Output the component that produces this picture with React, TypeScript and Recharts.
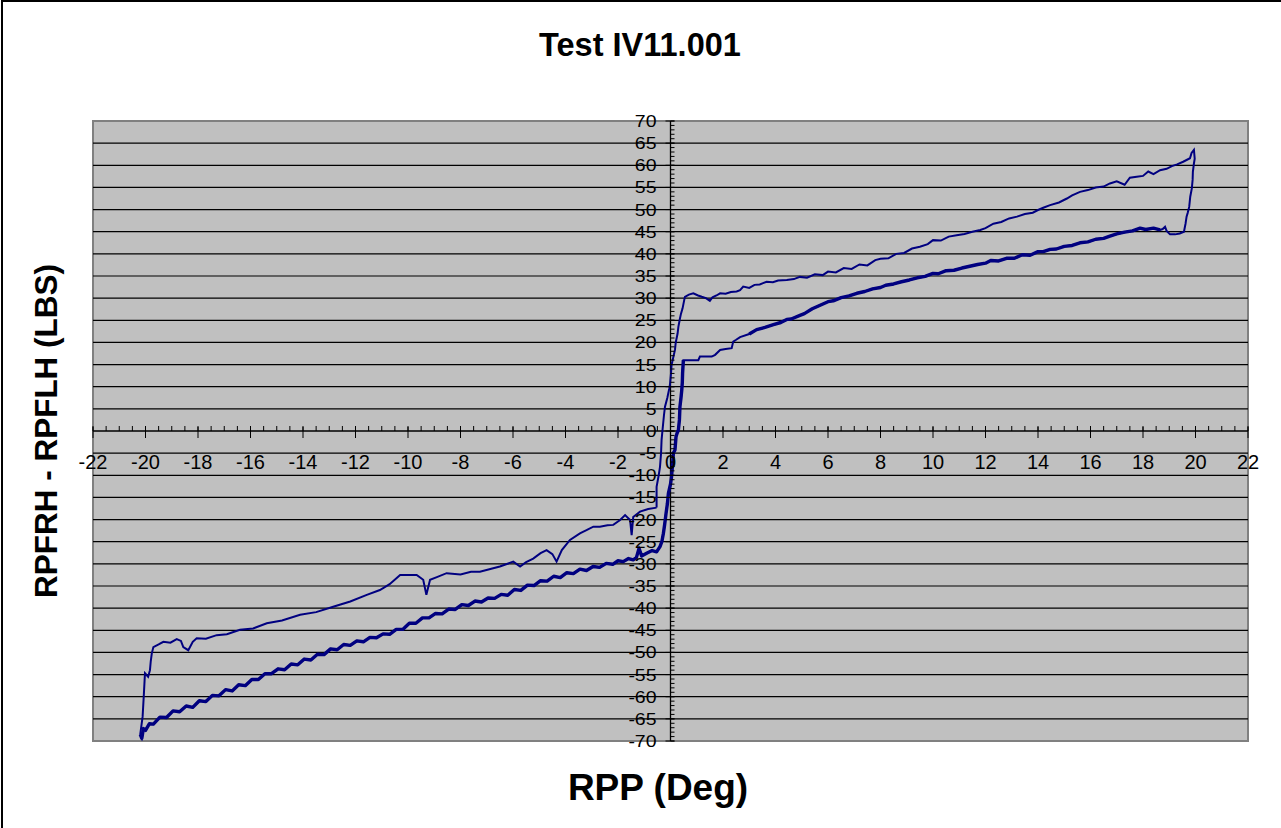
import React from 'react';
import { LineChart, Line, XAxis, YAxis, CartesianGrid, ReferenceLine, ReferenceDot, ReferenceArea } from 'recharts';

/* Test IV11.001 — RPP (Deg) vs RPFRH - RPFLH (LBS), one full hysteresis cycle */

const W = 1281;
const H = 828;
const FONT = '"Liberation Sans", Arial, sans-serif';
const LINE_COLOR = '#000080';

const X_TICKS = [-22, -20, -18, -16, -14, -12, -10, -8, -6, -4, -2, 0, 2, 4, 6, 8, 10, 12, 14, 16, 18, 20, 22];
const Y_TICKS = [-70, -65, -60, -55, -50, -45, -40, -35, -30, -25, -20, -15, -10, -5, 0, 5, 10, 15, 20, 25, 30, 35, 40, 45, 50, 55, 60, 65, 70];
const X_MINOR = Array.from({ length: 89 }, (_, i) => -22 + i * 0.5);
const Y_MINOR = Array.from({ length: 141 }, (_, i) => -70 + i);

// [deg, lbs] pairs, in the order the cycle was recorded
const riseAtZero: [number, number][] = [
  [-0.53, -17.3], [-0.53, -12.6], [-0.45, -10], [-0.4, -8.1], [-0.36, -5], [-0.34, -2], [-0.3, 0.5],
  [-0.25, 3.5], [-0.21, 5.5], [-0.12, 7.5], [-0.05, 9.5], [-0.02, 10.5], [0.02, 13], [0.04, 14.9],
  [0.1, 16.5], [0.17, 18.3], [0.2, 20], [0.27, 22], [0.3, 23.5], [0.36, 25.4], [0.4, 26.5],
  [0.46, 27.7], [0.52, 29.5], [0.55, 30.3],
];

const upperTop: [number, number][] = [
  [0.7, 30.8], [0.87, 31.1], [1.05, 30.6], [1.19, 30.3], [1.35, 30.0], [1.5, 29.4], [1.6, 30.2],
  [1.75, 30.6], [1.89, 31.1], [2.1, 31.0], [2.3, 31.4], [2.52, 31.5], [2.65, 31.8], [2.77, 32.6],
  [3.0, 32.3], [3.2, 33.0], [3.4, 33.1], [3.66, 33.7], [3.9, 33.6], [4.1, 34.0], [4.43, 34.1],
  [4.7, 34.3], [4.93, 34.8], [5.2, 34.6], [5.5, 35.4], [5.8, 35.2], [6.0, 36.0], [6.3, 35.8],
  [6.6, 36.8], [6.9, 36.6], [7.2, 37.6], [7.5, 37.4], [7.8, 38.6], [8.0, 38.9], [8.3, 39.0],
  [8.6, 40.0], [8.9, 40.2], [9.2, 41.2], [9.5, 41.6], [9.8, 42.2], [10.0, 43.1], [10.3, 43.0],
  [10.6, 43.9], [10.9, 44.2], [11.2, 44.5], [11.5, 45.0], [11.8, 45.4], [12.0, 45.8], [12.3, 46.8],
  [12.6, 47.2], [12.9, 48.0], [13.2, 48.4], [13.5, 49.0], [13.8, 49.3], [14.0, 49.9], [14.2, 50.4],
  [14.46, 51.0], [14.8, 51.6], [15.1, 52.5], [15.3, 53.2], [15.6, 54.0], [15.9, 54.4], [16.2, 55.0],
  [16.5, 55.2], [16.74, 55.9], [17.0, 56.4], [17.3, 55.6], [17.5, 57.2], [17.76, 57.4], [18.0, 57.6],
  [18.2, 58.6], [18.4, 58.0], [18.65, 58.9], [18.9, 59.2], [19.1, 59.8], [19.3, 60.2], [19.53, 60.8],
  [19.79, 61.6], [19.85, 62.8], [19.94, 63.5],
];

const dropAtTwenty: [number, number][] = [
  [19.97, 61.5], [19.94, 60.4], [19.9, 58.5], [19.89, 56.7], [19.86, 54.8], [19.8, 52.9], [19.76, 50.6],
  [19.7, 49.2], [19.66, 48.4], [19.62, 46.8], [19.56, 45.0], [19.4, 44.6], [19.22, 44.4], [19.03, 44.4],
  [18.9, 45.2], [18.84, 46.1], [18.75, 45.6], [18.65, 45.4],
];

const upperBottom: [number, number][] = [
  [18.4, 45.8], [18.1, 45.5], [17.89, 45.8], [17.6, 45.2], [17.3, 44.9], [17.0, 44.5], [16.74, 44.0],
  [16.5, 43.5], [16.2, 43.3], [15.9, 42.7], [15.6, 42.5], [15.3, 41.9], [15.0, 41.7], [14.7, 41.1],
  [14.46, 41.0], [14.2, 40.5], [14.0, 40.5], [13.7, 39.7], [13.4, 39.8], [13.1, 39.0], [12.8, 39.0],
  [12.5, 38.4], [12.2, 38.5], [12.0, 37.9], [11.7, 37.6], [11.4, 37.2], [11.1, 36.8], [10.8, 36.3],
  [10.5, 36.2], [10.2, 35.5], [10.0, 35.6], [9.7, 34.9], [9.4, 34.6], [9.1, 34.1], [8.8, 33.7],
  [8.5, 33.2], [8.2, 32.9], [8.0, 32.4], [7.7, 32.1], [7.4, 31.5], [7.1, 31.1], [6.8, 30.5],
  [6.5, 30.1], [6.2, 29.4], [6.0, 29.2], [5.7, 28.4], [5.4, 27.6], [5.1, 26.5], [4.93, 26.1],
  [4.6, 25.3], [4.43, 25.2], [4.2, 24.5], [3.92, 24.0], [3.6, 23.4], [3.28, 22.9], [3.0, 21.9],
];

const upperStep: [number, number][] = [
  [2.65, 21.2], [2.5, 20.6], [2.39, 20.2], [2.33, 18.7], [2.1, 18.5], [1.89, 18.3], [1.7, 17.2],
  [1.57, 16.8], [1.3, 16.8], [1.12, 16.8], [1.06, 16.0], [0.8, 16.0], [0.49, 16.0],
];

const dropAtZero: [number, number][] = [
  [0.46, 13.0], [0.45, 11], [0.43, 9.3], [0.4, 7.5], [0.36, 5.5], [0.34, 2.5], [0.3, 0.2], [0.25, -0.5],
  [0.21, -1.3], [0.17, -4.3], [0.11, -5.0], [0.08, -7.5], [0.04, -10.3], [0.0, -12], [-0.08, -14.1],
  [-0.12, -16.5], [-0.17, -18.6], [-0.22, -21], [-0.27, -23.1], [-0.33, -25], [-0.4, -26.1],
  [-0.53, -27.3], [-0.7, -27.0], [-0.91, -27.6], [-1.1, -28.2], [-1.2, -26.5], [-1.3, -28.6], [-1.42, -29.1],
];

const lowerBottom: [number, number][] = [
  [-1.6, -28.8], [-1.8, -29.5], [-2.0, -29.3], [-2.2, -30.1], [-2.45, -29.9], [-2.7, -30.8], [-2.95, -30.6],
  [-3.2, -31.5], [-3.45, -31.2], [-3.7, -32.2], [-3.95, -32.0], [-4.2, -33.1], [-4.45, -32.8], [-4.7, -33.9],
  [-4.95, -33.8], [-5.2, -34.9], [-5.45, -34.8], [-5.7, -36.0], [-5.95, -35.8], [-6.2, -37.1], [-6.45, -36.9],
  [-6.7, -37.8], [-6.95, -37.7], [-7.2, -38.6], [-7.45, -38.4], [-7.7, -39.4], [-7.95, -39.2], [-8.2, -40.3],
  [-8.45, -40.2], [-8.7, -41.3], [-8.95, -41.2], [-9.2, -42.2], [-9.45, -42.2], [-9.7, -43.4], [-9.95, -43.4],
  [-10.2, -44.8], [-10.45, -44.8], [-10.7, -45.9], [-10.95, -45.8], [-11.2, -46.7], [-11.45, -46.6],
  [-11.7, -47.6], [-11.95, -47.4], [-12.2, -48.4], [-12.45, -48.2], [-12.7, -49.4], [-12.95, -49.2],
  [-13.2, -50.5], [-13.45, -50.4], [-13.7, -51.7], [-13.95, -51.5], [-14.2, -52.8], [-14.45, -52.6],
  [-14.7, -53.9], [-14.95, -53.7], [-15.2, -54.8], [-15.45, -54.8], [-15.7, -56.1], [-15.95, -56.1],
  [-16.2, -57.5], [-16.45, -57.3], [-16.7, -58.7], [-16.95, -58.4], [-17.2, -59.8], [-17.45, -59.7],
  [-17.7, -61.1], [-17.95, -60.9], [-18.2, -62.4], [-18.45, -62.1], [-18.7, -63.4], [-18.95, -63.2],
  [-19.2, -64.7], [-19.45, -64.6], [-19.7, -66.2], [-19.85, -66.1], [-20.0, -67.6], [-20.08, -67.2],
  [-20.14, -69.4], [-20.2, -68.5],
];

const riseAtMinusTwenty: [number, number][] = [
  [-20.11, -64.5], [-20.06, -59.2], [-20.02, -54.7], [-19.9, -55.5], [-19.83, -54.0], [-19.8, -52],
  [-19.76, -50.2], [-19.7, -48.8],
];

const lowerTop: [number, number][] = [
  [-19.5, -48.2], [-19.32, -47.6], [-19.05, -47.8], [-18.81, -47.0], [-18.65, -47.4], [-18.56, -48.8],
  [-18.37, -49.5], [-18.2, -47.6], [-18.05, -46.8], [-17.7, -46.9], [-17.29, -46.1], [-16.9, -45.9],
  [-16.4, -44.9], [-15.9, -44.6], [-15.38, -43.4], [-14.8, -42.8], [-14.11, -41.5], [-13.5, -40.9],
  [-12.85, -39.7], [-12.2, -38.5], [-11.57, -37.0], [-11.07, -35.9], [-10.7, -34.6], [-10.3, -32.5],
  [-9.67, -32.5], [-9.42, -33.6], [-9.3, -37.0], [-9.16, -33.6], [-8.9, -33.0], [-8.53, -32.1],
  [-8.0, -32.4], [-7.6, -31.8], [-7.26, -31.8], [-6.9, -31.2], [-6.5, -30.6], [-5.99, -29.5],
  [-5.73, -30.6], [-5.5, -29.6], [-5.23, -28.8], [-4.95, -27.6], [-4.72, -26.9], [-4.5, -27.8],
  [-4.34, -29.5], [-4.14, -26.9], [-3.83, -24.6], [-3.45, -23.1], [-3.2, -22.4], [-2.94, -21.6],
  [-2.69, -21.6], [-2.4, -21.3], [-2.18, -21.2], [-1.92, -20.1], [-1.73, -19.0], [-1.54, -20.1],
  [-1.48, -23.5], [-1.42, -19.4], [-1.16, -18.2], [-0.85, -17.6], [-0.53, -17.3],
];

// noisier return branches read thicker in the reference, so they get a heavier overlay
const branches: [[number, number][], boolean][] = [
  [riseAtZero, false], [upperTop, false], [dropAtTwenty, false], [upperBottom, true], [upperStep, false],
  [dropAtZero, true], [lowerBottom, true], [riseAtMinusTwenty, false], [lowerTop, false],
];

const cycle: { x: number; y: number; thick: number | null }[] = [];
branches.forEach(([pts, heavy], bi) => {
  pts.forEach(([x, y], i) => {
    const nextHeavy = i === pts.length - 1 && branches[bi + 1] && branches[bi + 1][1];
    cycle.push({ x, y, thick: heavy || nextHeavy ? y : null });
  });
});

const XMajor = (label: number) => (p: any) => (
  <g>
    <line x1={p.cx} x2={p.cx} y1={p.cy - 4} y2={p.cy + 7} stroke="#000" strokeWidth={1} />
    <text x={p.cx} y={p.cy + 38} textAnchor="middle" fontSize={20} fontFamily={FONT} fill="#000">{label}</text>
  </g>
);
const XMinor = (p: any) => <line x1={p.cx} x2={p.cx} y1={p.cy - 5} y2={p.cy} stroke="#000" strokeWidth={1} />;

const YMajor = (label: number) => (p: any) => {
  const tx = p.cx - 14;
  const ty = p.cy + 6;
  return (
    <g>
      <line x1={p.cx - 5} x2={p.cx + 4} y1={p.cy} y2={p.cy} stroke="#000" strokeWidth={1} />
      <text x={tx} y={ty} textAnchor="end" fontSize={16.5} fontFamily={FONT} fill="#000"
        transform={`translate(${tx},${ty}) scale(1.18,1) translate(${-tx},${-ty})`}>{label}</text>
    </g>
  );
};
const YMinor = (p: any) => <line x1={p.cx} x2={p.cx + 4} y1={p.cy} y2={p.cy} stroke="#000" strokeWidth={1} />;

export default function App() {
  return (
    <div style={{ position: 'absolute', left: 0, top: 0, width: W, height: H, overflow: 'hidden', background: '#fff', fontFamily: FONT }}>
      <div style={{ position: 'absolute', left: 1, top: 0, width: W + 20, height: H + 20, borderLeft: '2px solid #000', borderTop: '2px solid #000' }} />
      <LineChart width={W} height={H} data={cycle} margin={{ top: 121, right: 33, bottom: 87, left: 93 }}>
        <CartesianGrid fill="#c0c0c0" horizontal={false} vertical={false} />
        <XAxis dataKey="x" type="number" domain={[-22, 22]} hide allowDataOverflow />
        <YAxis type="number" domain={[-70, 70]} hide allowDataOverflow />
        {Y_TICKS.filter(t => t !== 0 && Math.abs(t) !== 70).map(t => (
          <ReferenceLine key={`g${t}`} y={t} stroke="#000" strokeWidth={1.2} />
        ))}
        <ReferenceArea x1={-22} x2={22} y1={-70} y2={70} fill="none" fillOpacity={0} stroke="#808080" strokeWidth={2} />
        <ReferenceLine y={0} stroke="#000" strokeWidth={1.3} />
        <ReferenceLine x={0} stroke="#000" strokeWidth={1.3} />
        <Line type="linear" dataKey="y" stroke={LINE_COLOR} strokeWidth={2} dot={false} isAnimationActive={false} />
        <Line type="linear" dataKey="thick" stroke={LINE_COLOR} strokeWidth={3.4} strokeLinejoin="round" dot={false} connectNulls={false} isAnimationActive={false} />
        {X_MINOR.map(t => <ReferenceDot key={`xm${t}`} x={t} y={0} r={0} shape={XMinor} />)}
        {Y_MINOR.map(t => <ReferenceDot key={`ym${t}`} x={0} y={t} r={0} shape={YMinor} />)}
        {X_TICKS.map(t => <ReferenceDot key={`x${t}`} x={t} y={0} r={0} shape={XMajor(t)} />)}
        {Y_TICKS.map(t => <ReferenceDot key={`y${t}`} x={0} y={t} r={0} shape={YMajor(t)} />)}
      </LineChart>
      <svg width={W} height={H} style={{ position: 'absolute', left: 0, top: 0, pointerEvents: 'none' }}>
        <text x={640} y={56} textAnchor="middle" fontSize={32.5} fontWeight="bold" fontFamily={FONT}>Test IV11.001</text>
        <text x={658} y={800} textAnchor="middle" fontSize={37} fontWeight="bold" fontFamily={FONT}>RPP (Deg)</text>
        <text x={0} y={0} textAnchor="middle" fontSize={31.5} fontWeight="bold" fontFamily={FONT}
          transform="translate(57,431) rotate(-90)">RPFRH - RPFLH (LBS)</text>
      </svg>
    </div>
  );
}
